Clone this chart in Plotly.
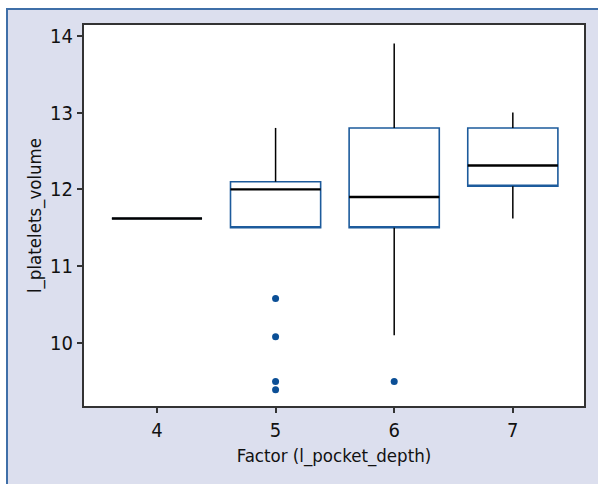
import plotly.graph_objects as go

groups = [4, 5, 6, 7]
q1 = [11.62, 11.5, 11.5, 12.04]
median = [11.62, 12.0, 11.9, 12.31]
q3 = [11.62, 12.1, 12.8, 12.8]
lower_whisker = [11.62, 11.5, 10.1, 11.62]
upper_whisker = [11.62, 12.8, 13.9, 13.0]
outlier_x = [5, 5, 5, 5, 6]
outlier_y = [10.58, 10.08, 9.5, 9.39, 9.5]
y_ticks = [10, 11, 12, 13, 14]

BOX_W = 0.76
BLUE = "#1d5b9c"
FONT = "Liberation Sans Narrow, Arial Narrow, DejaVu Sans Condensed, sans-serif"

fig = go.Figure()

# Boxes (blue outline, no whiskers)
fig.add_trace(go.Box(
    x=groups, q1=q1, median=q1, q3=q3,
    lowerfence=q1, upperfence=q3,
    width=BOX_W, fillcolor="white",
    line=dict(color=BLUE, width=1.6),
    boxpoints=False, showlegend=False, hoverinfo="skip",
))

# Whiskers (black)
wx, wy = [], []
for g, a, b, lo, hi in zip(groups, q1, q3, lower_whisker, upper_whisker):
    if hi > b:
        wx += [g, g, None]; wy += [b, hi, None]
    if lo < a:
        wx += [g, g, None]; wy += [a, lo, None]
fig.add_trace(go.Scatter(x=wx, y=wy, mode="lines",
                         line=dict(color="black", width=1.5),
                         showlegend=False, hoverinfo="skip"))

# Medians (black, thick)
mx, my = [], []
for g, m in zip(groups, median):
    mx += [g - BOX_W / 2, g + BOX_W / 2, None]; my += [m, m, None]
fig.add_trace(go.Scatter(x=mx, y=my, mode="lines",
                         line=dict(color="black", width=2.4),
                         showlegend=False, hoverinfo="skip"))

# Outliers
fig.add_trace(go.Scatter(x=outlier_x, y=outlier_y, mode="markers",
                         marker=dict(color="#0b4f96", size=7),
                         showlegend=False, hoverinfo="skip"))

fig.update_layout(
    width=598, height=484,
    margin=dict(l=84, r=14, t=25, b=78),
    paper_bgcolor="white",
    plot_bgcolor="rgba(0,0,0,0)",
    font=dict(family=FONT, size=18, color="#111"),
    shapes=[
        dict(type="rect", xref="paper", yref="paper",
             x0=-0.154, x1=1.3, y0=-0.5, y1=1.042,
             fillcolor="#dcdfee", line=dict(color="#3f6fa8", width=2), layer="below"),
        dict(type="rect", xref="paper", yref="paper",
             x0=0, x1=1, y0=0, y1=1,
             fillcolor="white", line=dict(width=0), layer="below"),
    ],
)

fig.update_xaxes(
    range=[3.385, 7.6], tickvals=groups, ticktext=[str(g) for g in groups],
    showline=True, linecolor="#333", linewidth=2, mirror=True,
    ticks="outside", ticklen=5, tickcolor="#333", tickwidth=1.5,
    showgrid=False, zeroline=False,
    title=dict(text="Factor (l_pocket_depth)", font=dict(size=18.5), standoff=8),
    tickfont=dict(size=20),
)
fig.update_yaxes(
    range=[9.18, 14.14], tickvals=y_ticks, ticktext=[str(t) for t in y_ticks],
    showline=True, linecolor="#333", linewidth=2, mirror=True,
    ticks="outside", ticklen=5, tickcolor="#333", tickwidth=1.5,
    showgrid=False, zeroline=False,
    title=dict(text="l_platelets_volume", font=dict(size=18.5), standoff=4),
    tickfont=dict(size=20),
)

fig.write_html("out.html")
